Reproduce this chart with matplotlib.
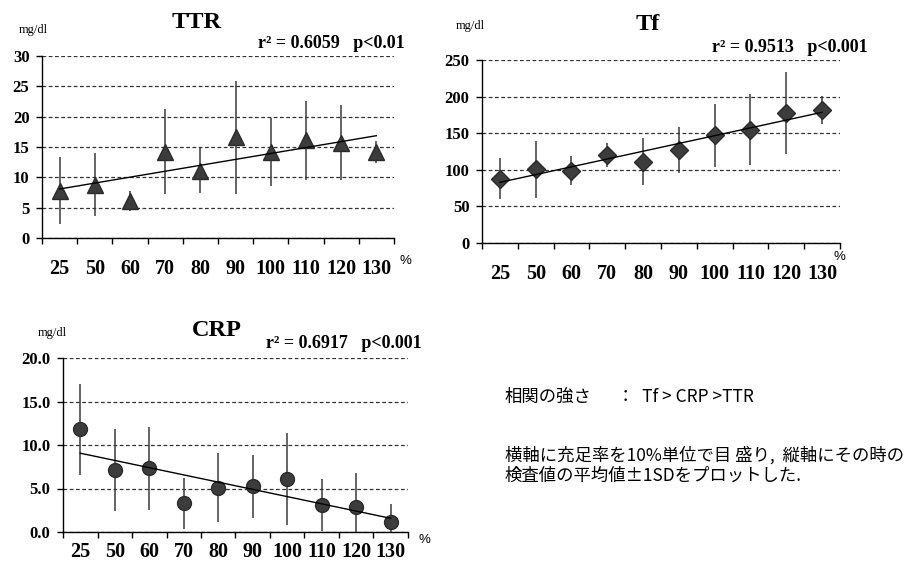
import numpy as np
import matplotlib.pyplot as plt

plt.rcParams['font.family'] = ['Liberation Serif', 'DejaVu Serif']

# 充足率 (%) のカテゴリ
categories = ['25', '50', '60', '70', '80', '90', '100', '110', '120', '130']

# 各検査値の平均値と SD
ttr_mean = [7.8, 8.8, 6.1, 14.2, 11.1, 16.6, 14.1, 16.1, 15.7, 14.2]
ttr_sd = [5.5, 5.2, 1.7, 7.0, 3.7, 9.3, 5.6, 6.5, 6.2, 1.8]

tf_mean = [88, 101, 99, 120, 111, 127, 147, 155, 177, 182]
tf_sd = [28, 39, 20, 16, 32, 32, 43, 48, 56, 19]

crp_mean = [11.8, 7.1, 7.3, 3.3, 5.1, 5.25, 6.1, 3.1, 2.9, 1.2]
crp_sd = [5.2, 4.7, 4.8, 2.9, 4.0, 3.6, 5.3, 3.0, 3.9, 2.0]

W, H = 912, 566
fig = plt.figure(figsize=(W / 100, H / 100), dpi=100)


def px(x, y):
    # ピクセル座標 -> figure 座標
    return x / W, 1 - y / H


def draw_panel(rect, mean, sd, marker, msize, ymax, ystep, fmt, xpad=15):
    ax = fig.add_axes(rect)
    x = np.arange(len(categories))
    ax.errorbar(x, mean, yerr=sd, fmt='none', ecolor='#3a3a3a', elinewidth=1.1, zorder=3)
    ax.plot(x, mean, linestyle='none', marker=marker, markersize=msize,
            color='#3c3c3c', markeredgecolor='#2a2a2a', zorder=4)
    # 線形近似
    k, b = np.polyfit(x, mean, 1)
    ax.plot(x, k * x + b, color='black', lw=1.0, zorder=5)

    ax.set_xlim(-0.5, len(categories) - 0.5)
    ax.set_ylim(0, ymax)
    yt = np.arange(0, ymax + ystep / 2, ystep)
    ax.set_yticks(yt)
    ax.set_yticklabels([fmt % v for v in yt])
    ax.set_xticks(x)
    ax.set_xticklabels(categories)
    ax.set_xticks(np.arange(-0.5, len(categories)), minor=True)
    ax.tick_params(axis='x', which='major', length=0, pad=xpad, labelsize=14.5)
    ax.tick_params(axis='x', which='minor', length=4, width=1, direction='out')
    ax.tick_params(axis='y', length=4, width=1, direction='out', pad=5, labelsize=12)
    for lab in ax.get_xticklabels() + ax.get_yticklabels():
        lab.set_fontweight('bold')
    ax.yaxis.grid(True, linestyle=(0, (3, 2)), color='#333333', lw=0.9)
    ax.set_axisbelow(True)
    for s in ['top', 'right']:
        ax.spines[s].set_visible(False)
    for s in ['left', 'bottom']:
        ax.spines[s].set_linewidth(1.0)
    return ax


# TTR
draw_panel([42 / W, 1 - 238 / H, 352 / W, 182 / H], ttr_mean, ttr_sd, '^', 12, 30, 5, '%d')
fig.text(*px(197, 23), 'TTR', ha='center', va='center', fontsize=17.5, fontweight='bold')
fig.text(*px(33, 30), 'mg/dl', ha='center', va='center', fontsize=9)
fig.text(*px(405, 44), 'r² = 0.6059   p<0.01', ha='right', va='center', fontsize=13, fontweight='bold')
fig.text(*px(405, 261), '%', ha='center', va='center', fontsize=9.5, family='Liberation Sans')

# Tf
draw_panel([482 / W, 1 - 243 / H, 358 / W, 183 / H], tf_mean, tf_sd, 'D', 9, 250, 50, '%d')
fig.text(*px(648, 25), 'Tf', ha='center', va='center', fontsize=17.5, fontweight='bold')
fig.text(*px(470, 26), 'mg/dl', ha='center', va='center', fontsize=9)
fig.text(*px(868, 47), 'r² = 0.9513   p<0.001', ha='right', va='center', fontsize=13, fontweight='bold')
fig.text(*px(839, 257), '%', ha='center', va='center', fontsize=9.5, family='Liberation Sans')

# CRP
draw_panel([63 / W, 1 - 532 / H, 345 / W, 174 / H], crp_mean, crp_sd, 'o', 10, 20, 5, '%.1f', xpad=7)
fig.text(*px(217, 330), 'CRP', ha='center', va='center', fontsize=17.5, fontweight='bold')
fig.text(*px(52, 333), 'mg/dl', ha='center', va='center', fontsize=9)
fig.text(*px(422, 343), 'r² = 0.6917   p<0.001', ha='right', va='center', fontsize=13, fontweight='bold')
fig.text(*px(424, 540), '%', ha='center', va='center', fontsize=9.5, family='Liberation Sans')

# 右下の説明文
jp = ['Noto Sans CJK JP', 'DejaVu Sans']
fig.text(*px(505, 397), '相関の強さ', ha='left', va='center', fontsize=12.5, family=jp)
fig.text(*px(617, 397), '：  Tf > CRP >TTR', ha='left', va='center', fontsize=12.5, family=jp)
fig.text(*px(505, 455), '横軸に充足率を10%単位で目 盛り,  縦軸にその時の', ha='left', va='center',
         fontsize=12.5, family=jp)
fig.text(*px(505, 476), '検査値の平均値±1SDをプロットした.', ha='left', va='center', fontsize=12.5, family=jp)

fig.savefig('out.png', dpi=100, facecolor='white')
